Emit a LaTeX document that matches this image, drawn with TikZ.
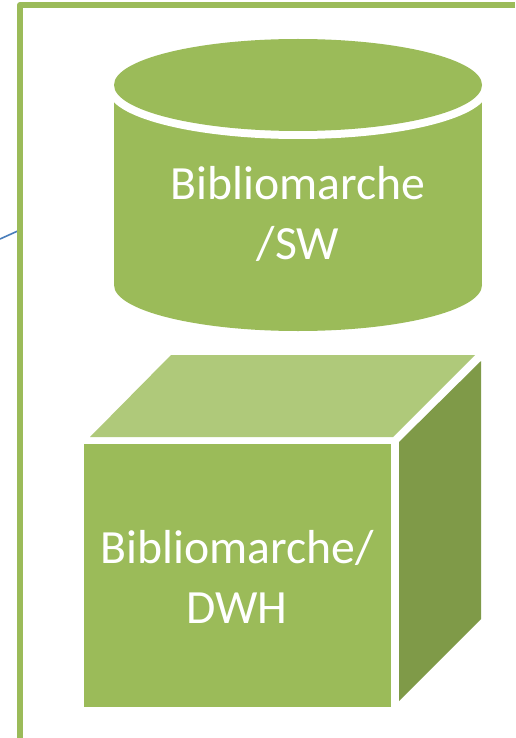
\documentclass[tikz,border=0pt]{standalone}
\usepackage{fontspec}
\setmainfont{Carlito}
\definecolor{gr}{HTML}{9BBB59}
\definecolor{grl}{HTML}{AFC97A}
\definecolor{grd}{HTML}{7F9A48}
\definecolor{bl}{HTML}{4A7EBB}
\tikzset{x=1pt,y=-1pt,lbl/.style={text=white,font=\fontsize{47.7}{60}\selectfont,align=center,inner sep=0pt}}
\begin{document}
\begin{tikzpicture}
\useasboundingbox (0,0) rectangle (515,738);
\fill[white] (0,0) rectangle (515,738);
\coordinate (wire) at (0,239);
\coordinate (wireend) at (20,230);
\draw[bl,line width=1.6pt] (wire) -- (wireend);
\draw[gr,line width=5.8pt,line join=round] (515,5) -- (20,5) -- (20,738);
% cylinder
\fill[gr] (114,92) rectangle (482,285);
\fill[gr] (298,285) ellipse[x radius=184,y radius=46];
\fill[white] (298,90) ellipse[x radius=190,y radius=49];
\fill[gr] (298,85) ellipse[x radius=184,y radius=46];
% cube
\fill[gr] (84,444) rectangle (391,707);
\fill[grl] (90,437) -- (171,355) -- (475,355) -- (393,437) -- cycle;
\fill[grd] (399,442) -- (481,361) -- (481,619) -- (399,701) -- cycle;
\node[lbl] (sw) at (298,214) {Bibliomarche\\/SW};
\node[lbl] (dwh) at (237,577) {Bibliomarche/\\DWH};
\end{tikzpicture}
\end{document}
